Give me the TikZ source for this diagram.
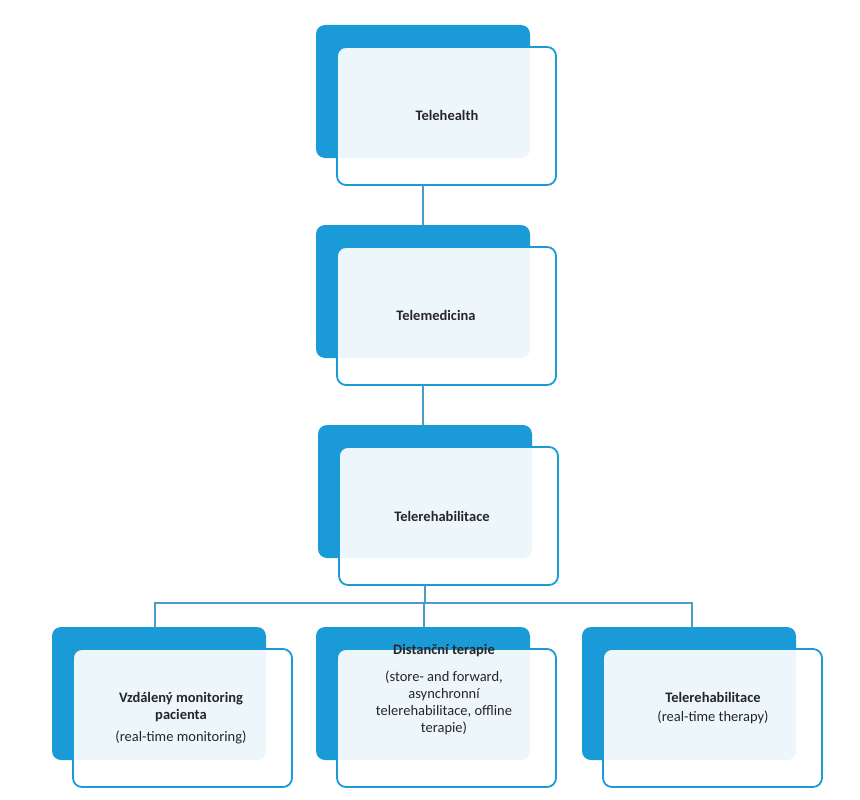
\documentclass[tikz,border=0pt]{standalone}
\usepackage{fontspec}
\setmainfont{Carlito}
\begin{document}
\begin{tikzpicture}[x=1pt,y=-1pt,
  back/.style={fill=blueA,rounded corners=9pt},
  front/.style={draw=blueA,line width=1.8pt,fill=white,fill opacity=0.92,text opacity=1,rounded corners=9pt},
  conn/.style={draw=lineC,line width=2pt},
  lbl/.style={font=\fontsize{14.5}{17}\selectfont,align=center,text=black!85},
  blbl/.style={font=\fontsize{14.5}{17}\selectfont\bfseries,align=center,text=black!85}]
\definecolor{blueA}{HTML}{1B9AD8}
\definecolor{lineC}{HTML}{4A9BC8}
\useasboundingbox (0,0) rectangle (860,800);
\newcommand{\twobox}[3]{%
  \fill[back] (#1,#2) rectangle ++(214,133);
  \path[front] (#1+21,#2+22) rectangle ++(219,138);}
\twobox{316}{25}{a}
\twobox{316}{225}{b}
\twobox{318}{425}{c}
\twobox{52}{627}{d}
\twobox{316}{627}{e}
\twobox{582}{627}{f}
\node[blbl] (na) at (447,115) {Telehealth};
\node[blbl] (nb) at (436,315) {Telemedicina};
\node[blbl] (nc) at (442,516) {Telerehabilitace};
\node[lbl] (nd) at (181,718) {\textbf{Vzdálený monitoring}\\\textbf{pacienta}\\[5pt](real-time monitoring)};
\node[lbl,anchor=north] (ne) at (444,641) {\textbf{Distanční terapie}\\[10pt](store- and forward,\\asynchronní\\telerehabilitace, offline\\terapie)};
\node[lbl] (nf) at (713,708) {\textbf{Telerehabilitace}\\[2pt](real-time therapy)};
\draw[conn] (423,185) -- (423,225);
\draw[conn] (423,385) -- (423,425);
\draw[conn] (425,585) -- (425,603);
\draw[conn] (155,628) -- (155,603) -- (692,603) -- (692,628);
\draw[conn] (424,603) -- (424,628);
\end{tikzpicture}
\end{document}
